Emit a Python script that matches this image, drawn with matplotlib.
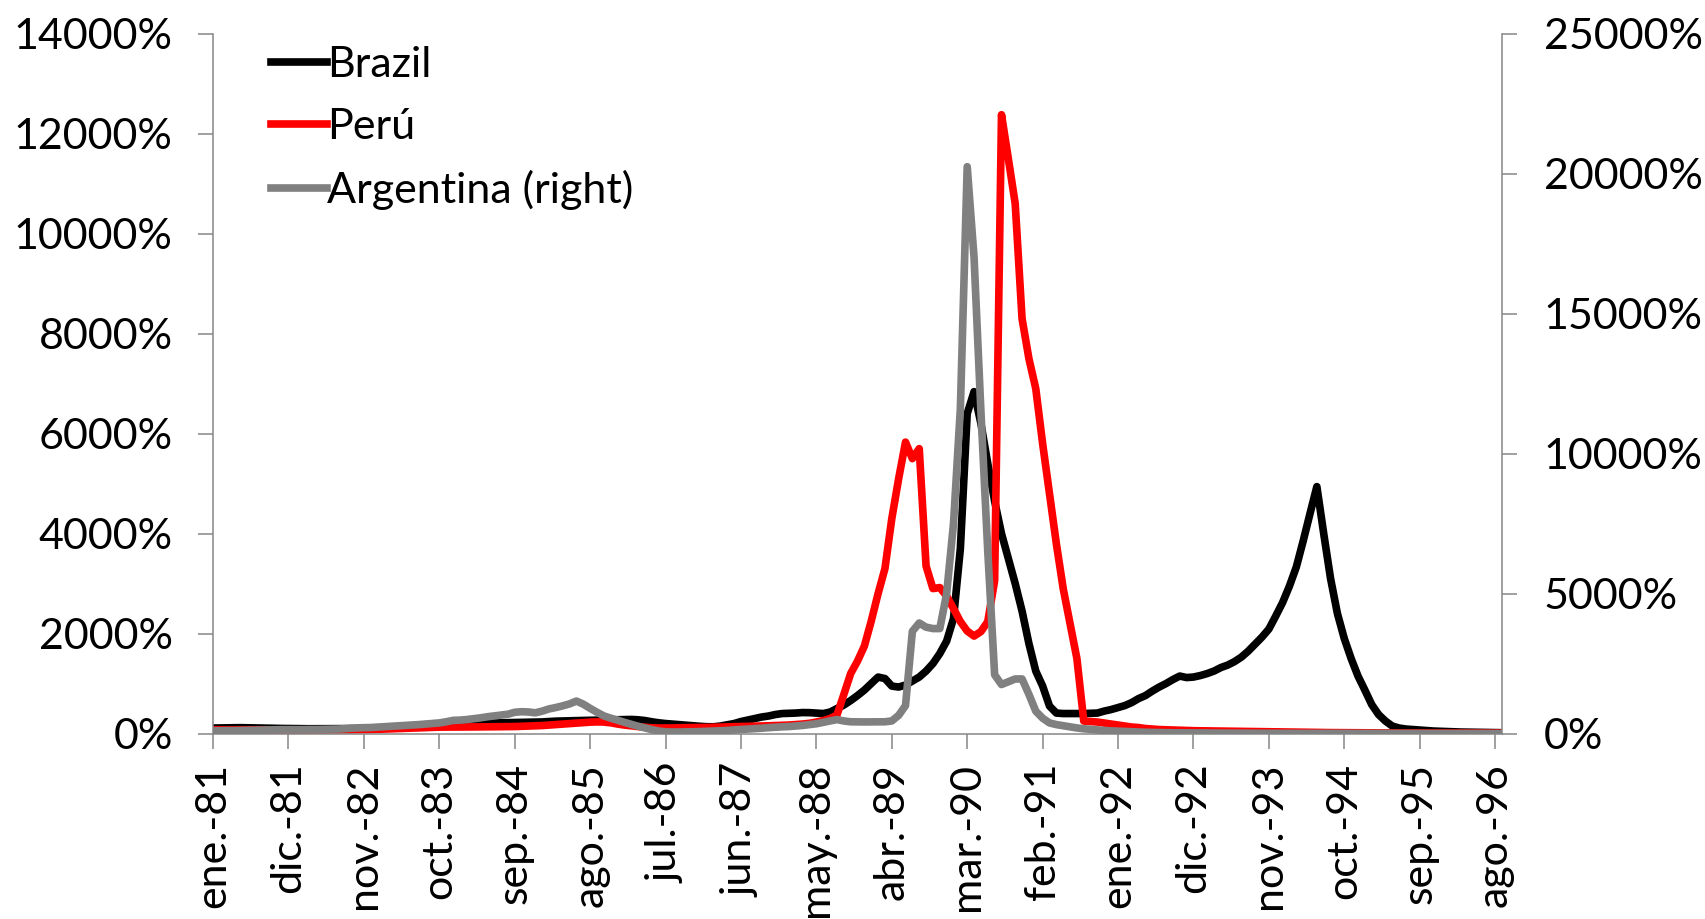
import matplotlib.pyplot as plt
from matplotlib.ticker import FuncFormatter

plt.rcParams['font.family'] = ['Lato', 'DejaVu Sans']

# monthly 12-month inflation, ene-81 .. sep-96 (%)
brazil = [110, 112, 115, 118, 118, 115, 112, 110, 108, 105, 102, 100,
          98, 97, 96, 96, 96, 97, 98, 99, 100, 100, 100, 100,
          105, 110, 118, 125, 133, 140, 150, 160, 175, 190, 200, 205,
          210, 213, 215, 215, 213, 212, 215, 218, 220, 222, 225, 228,
          232, 240, 248, 252, 255, 258, 262, 265, 268, 270, 272, 275,
          280, 282, 275, 260, 235, 215, 200, 190, 178, 167, 155, 145,
          137, 135, 150, 175, 200, 240, 270, 300, 330, 350, 380, 400,
          405, 410, 420, 418, 410, 400, 430, 500, 570, 660, 760, 870,
          1000, 1130, 1100, 950, 930, 970, 1050, 1130, 1250, 1400, 1600, 1850,
          2300, 3700, 6400, 6840, 6200, 5400, 4650, 4000, 3500, 3000, 2450, 1800,
          1250, 950, 550, 410, 400, 400, 400, 400, 405, 410, 450, 480,
          520, 560, 620, 700, 760, 850, 930, 1000, 1080, 1150, 1120, 1130,
          1160, 1200, 1250, 1320, 1370, 1440, 1530, 1650, 1790, 1930, 2090, 2350,
          2620, 2950, 3330, 3850, 4400, 4940, 4000, 3100, 2400, 1900, 1500, 1150,
          870, 580, 380, 250, 150, 110, 90, 80, 70, 60, 50, 45,
          40, 35, 30, 28, 25, 22, 20, 18, 17]

peru = [75, 73, 72, 72, 73, 74, 75, 75, 74, 73, 72, 72,
        72, 72, 72, 72, 72, 72, 73, 74, 75, 76, 78, 80,
        85, 90, 95, 100, 105, 110, 115, 120, 125, 128, 130, 130,
        130, 130, 132, 133, 133, 133, 135, 137, 140, 145, 150, 155,
        160, 170, 180, 190, 200, 210, 220, 228, 233, 230, 215, 190,
        170, 155, 140, 125, 115, 110, 110, 112, 115, 118, 120, 120,
        122, 125, 130, 133, 137, 140, 143, 147, 150, 155, 160, 165,
        170, 180, 190, 205, 230, 260, 300, 370, 780, 1200, 1450, 1750,
        2250, 2800, 3300, 4300, 5100, 5830, 5500, 5700, 3350, 2900, 2920, 2750,
        2500, 2240, 2050, 1950, 2040, 2240, 3060, 12380, 11500, 10600, 8300, 7500,
        6900, 5800, 4800, 3800, 2900, 2200, 1500, 250, 240, 230, 210, 190,
        170, 150, 130, 120, 100, 90, 80, 75, 70, 65, 60, 57,
        55, 52, 50, 48, 46, 45, 44, 42, 40, 38, 36, 34,
        32, 30, 28, 26, 24, 22, 20, 19, 18, 17, 16, 15,
        14, 13, 13, 12, 12, 12, 11, 11, 11, 11, 11, 10,
        10, 10, 10, 10, 10, 10, 10, 10, 10]

argentina = [100, 100, 105, 105, 110, 115, 120, 125, 130, 135, 140, 140,
             140, 140, 145, 145, 150, 155, 160, 170, 190, 200, 210, 215,
             230, 245, 260, 275, 290, 305, 320, 340, 357, 380, 420, 470,
             480, 500, 530, 560, 600, 630, 660, 690, 760, 780, 770, 740,
             800, 880, 930, 990, 1060, 1160, 1050, 900, 760, 630, 550, 480,
             400, 330, 260, 200, 140, 90, 60, 55, 55, 60, 65, 70,
             80, 90, 100, 110, 130, 145, 160, 175, 190, 210, 225, 240,
             250, 270, 290, 320, 350, 400, 450, 500, 450, 420, 417, 415,
             417, 417, 420, 450, 650, 1000, 3650, 3950, 3800, 3750, 3750, 5000,
             7500, 11600, 20250, 17000, 11500, 6500, 2100, 1750, 1850, 1950, 1950, 1400,
             800, 550, 380, 320, 280, 240, 200, 170, 150, 130, 110, 95,
             85, 75, 65, 55, 45, 40, 35, 30, 27, 25, 22, 20,
             18, 17, 16, 15, 14, 13, 12, 11, 10, 10, 9, 8,
             8, 7, 7, 6, 6, 5, 5, 5, 4, 4, 4, 4,
             4, 4, 4, 3, 3, 3, 3, 3, 2, 2, 2, 2,
             2, 1, 1, 1, 0, 0, 0, 0, 0]

tick_labels = ['ene.-81', 'dic.-81', 'nov.-82', 'oct.-83', 'sep.-84', 'ago.-85',
               'jul.-86', 'jun.-87', 'may.-88', 'abr.-89', 'mar.-90', 'feb.-91',
               'ene.-92', 'dic.-92', 'nov.-93', 'oct.-94', 'sep.-95', 'ago.-96']

months = list(range(len(brazil)))
grey = '#868686'
fs = 31
lw = 5.5

fig = plt.figure(figsize=(17.06, 9.19), dpi=100)
ax = fig.add_axes([0.1249, 0.2018, 0.7555, 0.7615])
ax2 = ax.twinx()

l1, = ax.plot(months, brazil, color='black', lw=lw, solid_joinstyle='round', label='Brazil')
l2, = ax.plot(months, peru, color='#ff0000', lw=lw, solid_joinstyle='round', label='Perú')
l3, = ax2.plot(months, argentina, color='#808080', lw=lw, solid_joinstyle='round',
               label='Argentina (right)')

ax.set_xlim(0, 188)
ax.set_ylim(0, 14000)
ax2.set_ylim(0, 25000)
ax.set_yticks(range(0, 14001, 2000))
ax2.set_yticks(range(0, 25001, 5000))
pct = FuncFormatter(lambda v, p: f'{v:.0f}%')
ax.yaxis.set_major_formatter(pct)
ax2.yaxis.set_major_formatter(pct)

ax.set_xticks(range(0, 188, 11))
ax.set_xticklabels(tick_labels, rotation=90, ha='center', va='top')

for a in (ax, ax2):
    a.spines['top'].set_visible(False)
    for s in ('left', 'right', 'bottom'):
        a.spines[s].set_color(grey)
        a.spines[s].set_linewidth(1.1)
ax.spines['right'].set_visible(False)
ax2.spines['left'].set_visible(False)
ax2.spines['bottom'].set_visible(False)

ax.tick_params(axis='y', direction='out', length=11, width=1.1, color=grey,
               labelsize=fs, pad=18)
ax.tick_params(axis='x', direction='out', length=11, width=1.1, color=grey,
               labelsize=fs, pad=10)
ax2.tick_params(axis='y', direction='out', length=11, width=1.1, color=grey,
                labelsize=fs, pad=19)

ax2.legend(handles=[l1, l2, l3], loc='upper left', bbox_to_anchor=(0.045, 0.982),
           frameon=False, fontsize=fs, handlelength=1.3, handletextpad=0.0,
           labelspacing=0.55, borderpad=0, borderaxespad=0)

fig.savefig('out.png', dpi=100)
